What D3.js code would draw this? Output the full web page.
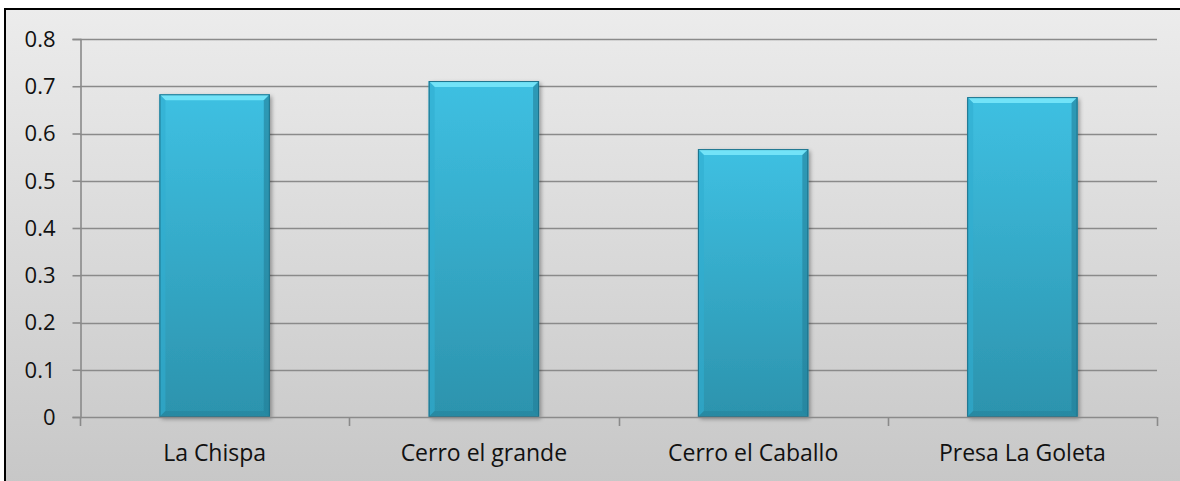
<!DOCTYPE html>
<html>
<head>
<meta charset="utf-8">
<script src="https://cdn.jsdelivr.net/npm/d3@7"></script>
<style>
  html, body { margin: 0; padding: 0; background: #fff; }
  svg { display: block; }
  text { font-family: "Open Sans", "Noto Sans", sans-serif; fill: #111; }
</style>
</head>
<body>
<svg id="chart" width="1180" height="481"></svg>
<script>
// Sites and their values
const categories = ["La Chispa", "Cerro el grande", "Cerro el Caballo", "Presa La Goleta"];
const values = [0.683, 0.711, 0.567, 0.677];
const yTicks = [0, 0.1, 0.2, 0.3, 0.4, 0.5, 0.6, 0.7, 0.8];
const yTickLabels = ["0", "0.1", "0.2", "0.3", "0.4", "0.5", "0.6", "0.7", "0.8"];

const W = 1180, H = 481;
const plot = { left: 80, right: 1157, top: 39, bottom: 417 };

const svg = d3.select("#chart");
const defs = svg.append("defs");

// Chart area background: light gray fading darker toward the bottom
const bg = defs.append("linearGradient").attr("id", "bgGrad")
  .attr("x1", 0).attr("y1", 0).attr("x2", 0).attr("y2", 1);
bg.append("stop").attr("offset", "0%").attr("stop-color", "#ececec");
bg.append("stop").attr("offset", "100%").attr("stop-color", "#c6c6c6");

// Bar face gradient
const face = defs.append("linearGradient").attr("id", "faceGrad")
  .attr("x1", 0).attr("y1", 0).attr("x2", 0).attr("y2", 1);
face.append("stop").attr("offset", "0%").attr("stop-color", "#3ec0e2");
face.append("stop").attr("offset", "100%").attr("stop-color", "#2c93ad");

const shadow = defs.append("filter").attr("id", "barShadow")
  .attr("x", "-10%").attr("y", "-10%").attr("width", "130%").attr("height", "130%");
shadow.append("feGaussianBlur").attr("in", "SourceAlpha").attr("stdDeviation", 2);
shadow.append("feOffset").attr("dx", 2).attr("dy", 2).attr("result", "off");
shadow.append("feComponentTransfer").append("feFuncA").attr("type", "linear").attr("slope", 0.35);
const merge = shadow.append("feMerge");
merge.append("feMergeNode");
merge.append("feMergeNode").attr("in", "SourceGraphic");

// Frame
svg.append("rect")
  .attr("x", 5).attr("y", 9).attr("width", W + 10).attr("height", H + 10)
  .attr("fill", "url(#bgGrad)").attr("stroke", "#000").attr("stroke-width", 2);

const x = d3.scaleBand().domain(categories)
  .range([plot.left, plot.right]).paddingInner(0.59).paddingOuter(0.295);
const xEdges = d3.scaleBand().domain(categories).range([plot.left, plot.right]);
const y = d3.scaleLinear().domain([0, 0.8]).range([plot.bottom, plot.top]);

const gridColor = "#8a8a8a";

// Horizontal gridlines
svg.append("g").selectAll("line").data(yTicks.slice(1)).join("line")
  .attr("x1", plot.left).attr("x2", plot.right)
  .attr("y1", d => Math.round(y(d)) + 0.5).attr("y2", d => Math.round(y(d)) + 0.5)
  .attr("stroke", gridColor).attr("stroke-width", 1.6);

// Y axis
const yAxis = d3.axisLeft(y).tickValues(yTicks)
  .tickFormat((d, i) => yTickLabels[i]).tickSize(8).tickPadding(8);
const gy = svg.append("g").attr("transform", `translate(${plot.left + 0.5},0)`).call(yAxis);
gy.select(".domain").attr("stroke", gridColor).attr("stroke-width", 1.6);
gy.selectAll(".tick line").attr("stroke", gridColor).attr("stroke-width", 1.6);
gy.selectAll(".tick text").attr("font-size", 22).attr("fill", "#111")
  .attr("font-family", "'Open Sans', sans-serif").attr("x", -25).attr("dy", "0.34em");

// Bars with bevelled edges
const bars = svg.append("g").selectAll("g").data(categories).join("g");
bars.each(function (c, i) {
  const g = d3.select(this);
  const x0 = x(c), bw = x.bandwidth();
  const y0 = y(values[i]), y1 = y(0);
  const b = 6;
  g.append("rect").attr("x", x0).attr("y", y0).attr("width", bw).attr("height", y1 - y0)
    .attr("fill", "url(#faceGrad)").attr("filter", "url(#barShadow)");
  // top bevel
  g.append("polygon").attr("points",
    [[x0, y0], [x0 + bw, y0], [x0 + bw - b, y0 + b], [x0 + b, y0 + b]].join(" "))
    .attr("fill", "#72e3f8");
  // left bevel
  g.append("polygon").attr("points",
    [[x0, y0], [x0 + b, y0 + b], [x0 + b, y1 - b], [x0, y1]].join(" "))
    .attr("fill", "#31aed0").attr("opacity", 0.6);
  // right bevel
  g.append("polygon").attr("points",
    [[x0 + bw, y0], [x0 + bw, y1], [x0 + bw - b, y1 - b], [x0 + bw - b, y0 + b]].join(" "))
    .attr("fill", "#237e98").attr("opacity", 0.6);
  // bottom bevel
  g.append("polygon").attr("points",
    [[x0, y1], [x0 + b, y1 - b], [x0 + bw - b, y1 - b], [x0 + bw, y1]].join(" "))
    .attr("fill", "#247f97").attr("opacity", 0.5);
  g.append("rect").attr("x", x0 + 0.5).attr("y", y0 + 0.5).attr("width", bw - 1).attr("height", y1 - y0 - 1)
    .attr("fill", "none").attr("stroke", "#1d7089").attr("stroke-width", 1);
});

// X axis baseline with ticks at category boundaries
svg.append("line").attr("x1", plot.left).attr("x2", plot.right)
  .attr("y1", plot.bottom + 0.5).attr("y2", plot.bottom + 0.5)
  .attr("stroke", gridColor).attr("stroke-width", 1.6);
const bounds = categories.map(c => xEdges(c)).concat([plot.right]);
svg.append("g").selectAll("line").data(bounds).join("line")
  .attr("x1", d => Math.round(d) + 0.5).attr("x2", d => Math.round(d) + 0.5)
  .attr("y1", plot.bottom).attr("y2", plot.bottom + 9)
  .attr("stroke", gridColor).attr("stroke-width", 1.6);

// Category labels
svg.append("g").selectAll("text").data(categories).join("text")
  .attr("x", d => x(d) + x.bandwidth() / 2).attr("y", 461)
  .attr("text-anchor", "middle").attr("font-size", 23)
  .text(d => d);
</script>
</body>
</html>
